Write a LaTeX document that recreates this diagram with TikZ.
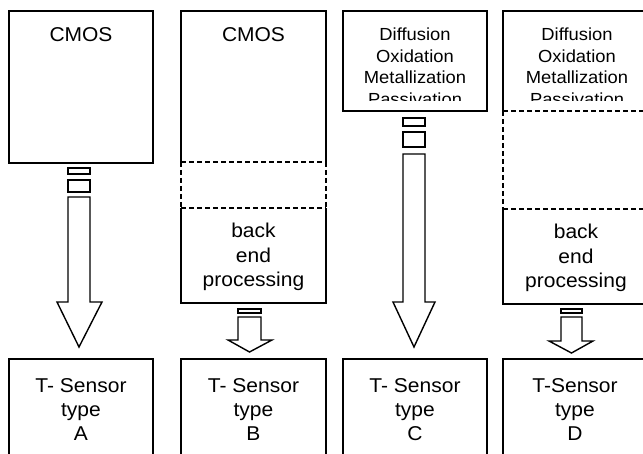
\documentclass[tikz,border=0pt]{standalone}
\usepackage{fontspec}
\setmainfont{Liberation Sans}[FakeStretch=1.05]
\begin{document}
\begin{tikzpicture}[x=1pt,y=-1pt,
  box/.style={draw, line width=1.4pt},
  solidln/.style={line width=1.4pt},
  dsh/.style={line width=1.4pt, dash pattern=on 5pt off 3pt},
  big/.style={font=\fontsize{20}{24}\selectfont, align=center, inner sep=0pt},
  bep/.style={font=\fontsize{20}{24.5}\selectfont, align=center, inner sep=0pt},
  small/.style={font=\fontsize{17.5}{21.7}\selectfont, align=center, inner sep=0pt},
  arr/.style={draw, line width=1.4pt, fill=white, line join=miter}]

\useasboundingbox (0,0) rectangle (643,454);

% ---------- column A ----------
\draw[box] (9,11) rectangle (153,163);
\node[big] (cmosA) at (81,35) {CMOS};
\draw[arr] (68,168) rectangle (90,174);
\draw[arr] (68,180) rectangle (90,192);
\draw[arr] (68,197) -- (68,302) -- (57,302) -- (79,347) -- (102,302) -- (90,302) -- (90,197) -- cycle;
\draw[solidln] (9,470) -- (9,359) -- (153,359) -- (153,470);
\node[big] (sA) at (81,410) {T- Sensor\\type\\A};

% ---------- column B ----------
\draw[solidln] (181,162) -- (181,11) -- (326,11) -- (326,162);
\draw[dsh] (181,162) -- (326,162);
\draw[dsh] (181,162) -- (181,208);
\draw[dsh] (326,162) -- (326,208);
\draw[dsh] (181,208) -- (326,208);
\draw[solidln] (181,208) -- (181,303) -- (326,303) -- (326,208);
\node[big] (cmosB) at (253.5,35) {CMOS};
\node[bep] (bepB) at (253.5,257) {back\\end\\processing};
\draw[arr] (238,309) rectangle (261,313);
\draw[arr] (238,317) -- (238,340) -- (228,340) -- (249.5,352) -- (272,340) -- (261,340) -- (261,317) -- cycle;
\draw[solidln] (181,470) -- (181,359) -- (326,359) -- (326,470);
\node[big] (sB) at (253.5,410) {T- Sensor\\type\\B};

% ---------- column C ----------
\draw[box] (343,11) rectangle (487,111);
\begin{scope}
  \clip (343,11) rectangle (487,101);
  \node[small] (dC) at (415,66.7) {Diffusion\\Oxidation\\Metallization\\Passivation};
\end{scope}
\draw[arr] (403,118) rectangle (425,126);
\draw[arr] (403,132) rectangle (425,147);
\draw[arr] (403,154) -- (403,302) -- (393,302) -- (414,347) -- (435,302) -- (425,302) -- (425,154) -- cycle;
\draw[solidln] (343,470) -- (343,359) -- (487,359) -- (487,470);
\node[big] (sC) at (415,410) {T- Sensor\\type\\C};

% ---------- column D ----------
\draw[solidln] (503,111) -- (503,11) -- (660,11);
\draw[dsh] (503,111) -- (660,111);
\draw[dsh] (503,111) -- (503,209);
\draw[dsh] (503,209) -- (660,209);
\draw[solidln] (503,209) -- (503,304) -- (660,304);
\begin{scope}
  \clip (503,11) rectangle (660,101);
  \node[small] (dD) at (577,66.7) {Diffusion\\Oxidation\\Metallization\\Passivation};
\end{scope}
\node[bep] (bepD) at (576,258) {back\\end\\processing};
\draw[arr] (561,309) rectangle (582,313);
\draw[arr] (561,317) -- (561,341) -- (549,341) -- (571.5,353) -- (593,341) -- (582,341) -- (582,317) -- cycle;
\draw[solidln] (503,470) -- (503,359) -- (660,359);
\node[big] (sD) at (575,410) {T-Sensor\\type\\D};
\end{tikzpicture}
\end{document}
